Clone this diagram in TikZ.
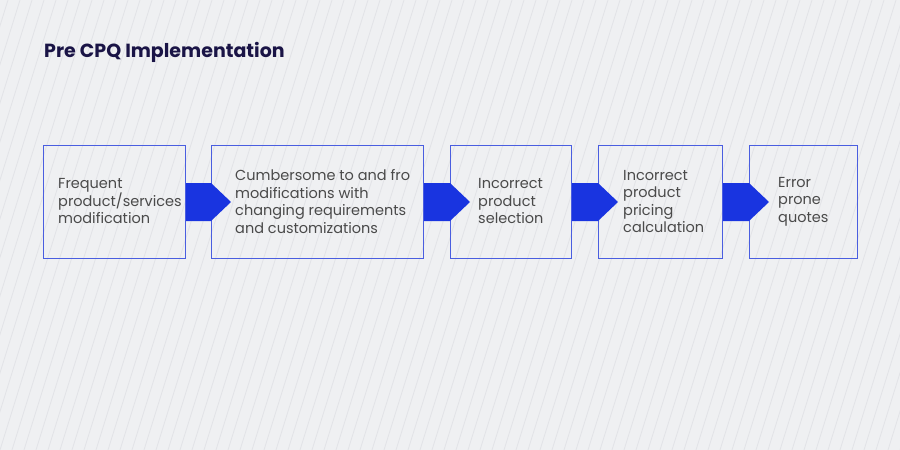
\documentclass[tikz,border=0pt]{standalone}
\usepackage{fontspec}
\setmainfont{Poppins}
\usetikzlibrary{calc}
\definecolor{bg}{HTML}{EFF0F2}
\definecolor{stripe}{HTML}{E2E3E7}
\definecolor{boxline}{HTML}{4A5EE0}
\definecolor{arrowblue}{HTML}{1934E0}
\definecolor{titlec}{HTML}{1A1446}
\definecolor{txt}{HTML}{4A4A4A}
\begin{document}
\begin{tikzpicture}[x=1pt,y=-1pt,
  stepbox/.style={draw=boxline, line width=1pt, minimum height=113pt, inner sep=0pt, anchor=north west},
  lbl/.style={anchor=west, align=left, font=\fontsize{14.5}{17.5}\selectfont, text=txt, inner sep=0pt},
  arr/.style={fill=arrowblue}]
\fill[bg] (0,0) rectangle (900,450);
\useasboundingbox (0,0) rectangle (900,450);
\begin{scope}
\clip (0,0) rectangle (900,450);
\foreach \i in {-12,...,80}{
  \draw[stripe, line width=0.8pt] (\i*12,450) -- ++(140,-450);
}
\end{scope}
\node[anchor=base west, inner sep=0pt, text=titlec, font=\fontsize{19}{22}\selectfont\bfseries] (title) at (44,57) {Pre CPQ Implementation};
\node[stepbox, minimum width=142pt] (b1) at (43,145) {};
\node[stepbox, minimum width=212pt] (b2) at (211,145) {};
\node[stepbox, minimum width=121pt] (b3) at (450,145) {};
\node[stepbox, minimum width=124pt] (b4) at (598,145) {};
\node[stepbox, minimum width=108pt] (b5) at (749,145) {};
\foreach \a/\b in {b1/b2,b2/b3,b3/b4,b4/b5}{
  \fill[arr] ($(\a.east)+(0,-19)$) -- ($(\b.west)+(0,-19)$) -- ($(\b.west)+(20,0)$) -- ($(\b.west)+(0,19)$) -- ($(\a.east)+(0,19)$) -- cycle;
}
\node[lbl] (t1) at (58,201.5) {Frequent\\product/services\\modification};
\node[lbl] (t2) at (235,201.5) {Cumbersome to and fro\\modifications with\\changing requirements\\and customizations};
\node[lbl] (t3) at (478,201.5) {Incorrect\\product\\selection};
\node[lbl] (t4) at (623,201.5) {Incorrect\\product\\pricing\\calculation};
\node[lbl] (t5) at (778,201.5) {Error\\prone\\quotes};
\end{tikzpicture}
\end{document}
